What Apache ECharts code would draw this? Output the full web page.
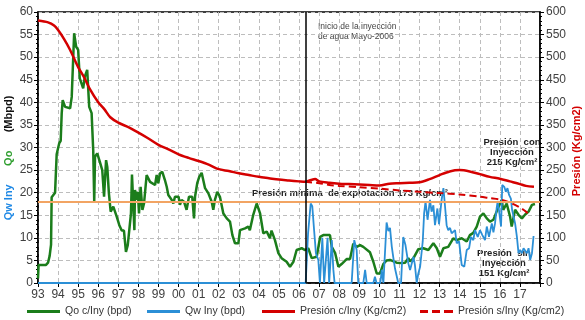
<!DOCTYPE html>
<html>
<head>
<meta charset="utf-8">
<script src="https://cdn.jsdelivr.net/npm/echarts@6/dist/echarts.min.js"></script>
<style>html,body{margin:0;padding:0;background:#fff}#c{width:585px;height:320px}</style>
</head>
<body>
<div id="c"></div>
<script>
// ---- Data ----
const qoYears = [1993.00,1993.03,1993.40,1993.50,1993.58,1993.65,1993.68,1993.85,1993.93,1994.06,1994.13,1994.18,1994.23,1994.35,1994.60,1994.68,1994.80,1994.90,1995.00,1995.08,1995.25,1995.33,1995.45,1995.55,1995.67,1995.75,1995.80,1995.84,1995.95,1996.08,1996.20,1996.29,1996.39,1996.45,1996.53,1996.62,1996.75,1996.92,1997.05,1997.17,1997.28,1997.38,1997.47,1997.55,1997.63,1997.68,1997.75,1997.80,1997.83,1997.92,1997.97,1998.03,1998.11,1998.20,1998.28,1998.41,1998.58,1998.83,1998.91,1998.99,1999.08,1999.19,1999.32,1999.41,1999.49,1999.66,1999.74,1999.82,2000.00,2000.07,2000.15,2000.27,2000.40,2000.52,2000.68,2000.77,2000.82,2000.93,2001.03,2001.15,2001.32,2001.48,2001.65,2001.73,2001.81,2001.93,2002.06,2002.23,2002.40,2002.56,2002.68,2002.81,2002.98,2003.06,2003.31,2003.47,2003.55,2003.72,2003.89,2004.06,2004.22,2004.39,2004.55,2004.63,2004.80,2004.97,2005.13,2005.38,2005.55,2005.72,2005.88,2006.13,2006.30,2006.46,2006.63,2006.88,2007.05,2007.21,2007.54,2007.63,2007.80,2007.96,2008.12,2008.37,2008.54,2008.70,2008.87,2009.04,2009.20,2009.53,2009.70,2009.87,2010.03,2010.20,2010.36,2010.53,2010.86,2011.11,2011.28,2011.44,2011.53,2011.70,2011.94,2012.19,2012.44,2012.69,2012.86,2013.02,2013.19,2013.43,2013.68,2013.85,2014.10,2014.35,2014.51,2014.68,2014.85,2015.01,2015.18,2015.35,2015.51,2015.68,2015.84,2016.01,2016.09,2016.17,2016.34,2016.51,2016.59,2016.76,2016.93,2017.10,2017.25,2017.43,2017.60,2017.75];
const qoValues = [1.0,4.0,4.0,4.5,6.0,8.5,19.0,20.0,28.5,31.0,31.5,37.5,40.5,39.0,38.7,41.2,55.3,52.3,51.6,45.3,43.1,45.7,47.2,39.0,37.6,29.4,18.0,28.0,28.7,26.8,25.0,19.1,27.2,25.7,19.9,15.8,16.9,14.7,12.8,11.6,11.6,6.9,8.4,8.7,15.4,24.0,16.9,11.7,20.6,18.4,20.2,15.4,21.3,16.2,17.6,23.9,22.4,21.7,23.9,22.1,24.3,24.6,22.8,21.3,19.5,18.4,17.6,19.1,19.1,17.3,18.4,18.0,16.2,19.1,19.1,14.3,19.1,22.1,23.5,24.4,21.0,19.9,18.0,16.2,18.4,20.2,19.1,15.4,14.3,13.6,10.6,8.8,8.8,11.7,12.1,12.5,11.7,15.1,17.6,15.4,11.0,11.4,9.9,11.6,9.5,6.6,5.5,4.7,3.6,4.7,7.3,7.7,7.3,7.7,5.5,5.8,10.2,10.6,10.6,8.0,6.6,3.6,4.2,5.3,5.3,8.7,8.0,8.4,8.0,6.8,4.7,2.1,2.1,4.2,5.0,5.1,4.5,4.4,4.5,5.5,4.8,5.5,7.5,7.7,7.3,8.8,7.7,5.8,7.7,8.0,9.9,9.5,9.9,9.2,10.6,11.1,12.5,14.7,15.4,14.3,13.6,14.0,15.8,17.6,18.4,16.2,17.6,14.7,12.5,16.2,15.1,14.3,15.1,15.8,17.3,17.5];

const qwYears = [1993.00,2006.33,2006.45,2006.58,2006.66,2006.75,2006.84,2006.96,2007.04,2007.16,2007.25,2007.42,2007.50,2007.63,2007.71,2007.77,2008.62,2008.75,2008.87,2008.95,2009.20,2009.29,2009.37,2009.70,2009.78,2009.86,2010.05,2010.12,2010.20,2010.36,2010.45,2010.53,2010.62,2010.69,2010.78,2010.94,2011.08,2011.19,2011.30,2011.44,2011.53,2011.70,2011.77,2011.86,2011.94,2012.03,2012.16,2012.23,2012.30,2012.40,2012.52,2012.60,2012.69,2012.77,2012.89,2012.97,2013.10,2013.19,2013.27,2013.35,2013.43,2013.52,2013.60,2013.77,2013.85,2013.97,2014.10,2014.23,2014.35,2014.47,2014.56,2014.68,2014.76,2014.90,2015.01,2015.13,2015.26,2015.35,2015.46,2015.60,2015.68,2015.76,2015.84,2015.89,2015.96,2016.06,2016.12,2016.22,2016.30,2016.38,2016.46,2016.55,2016.61,2016.76,2016.85,2016.93,2017.01,2017.10,2017.18,2017.25,2017.35,2017.43,2017.51,2017.60,2017.68];
const qwValues = [0,0,11.0,17.6,17.0,11.7,6.6,5.1,0,10.0,0,10.0,0,9.5,2.9,0,0,9.5,7.3,0,0,2.9,0,0,1.4,0,0,2.9,0,13.4,11.5,12.2,8.0,5.8,3.2,0,0,10.2,8.4,4.4,2.9,5.8,4.0,0,2.1,3.6,9.2,15.5,18.0,14.0,18.4,15.8,17.2,12.8,16.5,13.0,18.4,21.0,17.0,12.8,11.7,12.2,11.0,11.7,8.8,9.2,4.0,3.6,7.3,7.7,10.2,9.5,11.7,10.2,11.7,10.6,9.5,12.5,10.2,13.2,11.2,13.2,16.5,18.0,16.0,12.5,21.7,21.3,20.2,21.0,19.5,18.7,16.2,13.2,10.2,6.6,7.3,6.6,7.7,7.3,6.6,7.7,5.1,6.6,10.4];

const pcYears = [1993.0,1993.5,1993.8,1994.0,1994.3,1994.6,1995.0,1995.3,1995.6,1996.0,1996.3,1996.6,1997.0,1997.5,1998.0,1998.5,1999.0,1999.5,2000.0,2000.5,2001.0,2001.5,2002.0,2002.5,2003.0,2003.5,2004.0,2004.5,2005.0,2005.5,2006.0,2006.3,2006.6,2006.8,2007.0,2007.5,2008.0,2008.5,2009.0,2009.5,2010.0,2010.5,2011.0,2011.5,2012.0,2012.5,2013.0,2013.5,2014.0,2014.5,2015.0,2015.5,2016.0,2016.5,2017.0,2017.3,2017.7];
const pcValues = [581,577,570,560,540,516,478,455,428,400,385,367,355,345,333,320,306,296,285,277,270,262,252,248,243,239,235,232,229,227,225,224,228,230,225,222,220,219,218,217,216,220,221,222,223,230,239,247,250,247,241,235,231,225,219,215,213];

const psYears = [2006.3,2007.0,2007.5,2008.0,2009.0,2010.0,2011.0,2012.0,2013.0,2014.0,2015.0,2015.5,2016.0,2016.5,2017.0,2017.3,2017.45];
const psValues = [224,221,217,215,212,209,205,202,199,196,191,188,185,178,167,158,151];

const minPressureLine = 18;      // left-axis units (Mbpd scale) = 180 on right
const injectionStart = 2006.33;   // Mayo-2006

const legendNames = ['Qo c/Iny (bpd)','Qw Iny (bpd)','Presión c/Iny (Kg/cm2)','Presión s/Iny (Kg/cm2)'];

function zip(a,b){return a.map((x,i)=>[x,b[i]]);}

const FONT = 'Liberation Sans, Arial, sans-serif';
const chart = echarts.init(document.getElementById('c'), null, {renderer:'canvas'});

const splitLine = {show:true, lineStyle:{color:'#bdbdbd', type:[4,3], width:1}};
const legendIcons = ['rect','rect','rect','path://M0,0h8v3h-8zM12,0h8v3h-8zM24,0h9v3h-9z'];
const legendLefts = [27,147,262,420];

chart.setOption({
  animation:false,
  backgroundColor:'#fff',
  textStyle:{fontFamily:FONT},
  grid:{left:38, right:45, top:12, bottom:37, show:true, borderColor:'#000', borderWidth:1.5, backgroundColor:'transparent'},
  legend:[0,1,2,3].map((i)=>({
    data:[legendNames[i]],
    icon:legendIcons[i],
    left:legendLefts[i], top:306, padding:0,
    itemWidth:33, itemHeight:3, itemGap:0,
    textStyle:{fontSize:10.5, color:'#333', fontFamily:FONT}
  })),
  xAxis:{
    type:'value', min:1993, max:2018, interval:1,
    axisLine:{show:true, lineStyle:{color:'#000', width:1.5}},
    axisTick:{show:true, length:4, lineStyle:{color:'#000'}},
    axisLabel:{fontSize:12, color:'#404040', margin:6, fontFamily:FONT,
      formatter:(v)=> v>2017 ? '' : String(v%100).padStart(2,'0')},
    splitLine:splitLine
  },
  yAxis:[{
    type:'value', min:0, max:60, interval:5, position:'left',
    axisLine:{show:true, lineStyle:{color:'#000', width:1.5}},
    axisTick:{show:true, length:4, lineStyle:{color:'#000'}},
    minorTick:{show:true, splitNumber:5, length:2, lineStyle:{color:'#000'}},
    axisLabel:{fontSize:12, color:'#404040', margin:5, fontFamily:FONT},
    splitLine:splitLine
  },{
    type:'value', min:0, max:600, interval:50, position:'right',
    axisLine:{show:true, lineStyle:{color:'#000', width:1.5}},
    axisTick:{show:true, length:4, lineStyle:{color:'#000'}},
    minorTick:{show:true, splitNumber:5, length:2, lineStyle:{color:'#000'}},
    axisLabel:{fontSize:12, color:'#404040', margin:6, fontFamily:FONT},
    splitLine:{show:false}
  }],
  series:[
    {name:legendNames[0], type:'line', yAxisIndex:0, data:zip(qoYears,qoValues),
     showSymbol:false, symbol:'none', lineStyle:{color:'#1b7d1b', width:2.5}, itemStyle:{color:'#1b7d1b'},
     markLine:{silent:true, symbol:['none','none'], label:{show:false},
       data:[
         {yAxis:minPressureLine, lineStyle:{color:'#f2a463', width:2, type:'solid'}},
         {xAxis:injectionStart, lineStyle:{color:'#000', width:1.5, type:'solid'}}
       ]}},
    {name:legendNames[1], type:'line', yAxisIndex:0, data:zip(qwYears,qwValues),
     showSymbol:false, symbol:'none', lineStyle:{color:'#2b8fd6', width:1.8}, itemStyle:{color:'#2b8fd6'}},
    {name:legendNames[2], type:'line', yAxisIndex:1, data:zip(pcYears,pcValues), smooth:0.3,
     showSymbol:false, symbol:'none', lineStyle:{color:'#d40000', width:2.5}, itemStyle:{color:'#d40000'}},
    {name:legendNames[3], type:'line', yAxisIndex:1, data:zip(psYears,psValues), smooth:0.3,
     showSymbol:false, symbol:'none', lineStyle:{color:'#d40000', width:2, type:[7,4]}, itemStyle:{color:'#d40000'}}
  ],
  graphic:[
    {type:'text', left:318, top:21, style:{text:'Inicio de la inyección\nde agua Mayo-2006', font:'8.5px '+FONT, fill:'#444', lineHeight:10.5}},
    {type:'text', left:252, top:188, style:{text:'Presión mínima  de explotación 173 Kg/cm²', font:'bold 9.5px '+FONT, fill:'#222'}},
    {type:'text', x:512, y:137, style:{text:'Presión  con\nInyección\n215 Kg/cm²', font:'bold 9.5px '+FONT, fill:'#222', align:'center', lineHeight:10}},
    {type:'text', x:504, y:248, style:{text:'Presión  sin\nInyección\n151 Kg/cm²', font:'bold 9.5px '+FONT, fill:'#222', align:'center', lineHeight:10}},
    {type:'text', x:9, y:158, rotation:Math.PI/2,
     style:{text:'{b|Qw Iny}      {g|Qo}      {k|(Mbpd)}', align:'center', verticalAlign:'middle',
       rich:{b:{fill:'#1e88e5', font:'bold 11px '+FONT}, g:{fill:'#2e9e2e', font:'bold 11px '+FONT}, k:{fill:'#111', font:'bold 11px '+FONT}},
       font:'bold 11px '+FONT}},
    {type:'text', x:577, y:151, rotation:Math.PI/2,
     style:{text:'Presión (Kg/cm2)', align:'center', verticalAlign:'middle', fill:'#d40000', font:'bold 11px '+FONT}}
  ]
});
</script>
</body>
</html>
